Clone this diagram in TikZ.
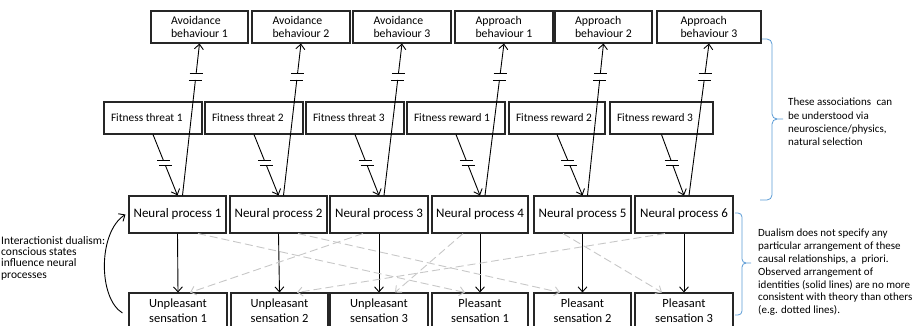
\documentclass[tikz,border=0pt]{standalone}
\usepackage{fontspec}
\setmainfont{Carlito}
\usetikzlibrary{arrows.meta}
\begin{document}
\begin{tikzpicture}[x=1pt,y=-1pt,
  box/.style={draw=black!85, line width=1.1pt, inner sep=0pt},
  beh/.style={box, align=left, minimum height=32pt, font=\fontsize{11.8}{13.5}\selectfont},
  fit/.style={box, minimum height=32pt, font=\fontsize{11.4}{13}\selectfont},
  np/.style={box, align=center, minimum height=37pt, font=\fontsize{13}{15}\selectfont},
  sens/.style={box, align=center, minimum height=35pt, font=\fontsize{12.5}{15}\selectfont},
  ar/.style={-{Straight Barb[length=5pt,width=9pt]}, line width=0.9pt},
  dsh/.style={draw=black!22, dash pattern=on 8pt off 4pt, line width=0.9pt, -{Straight Barb[length=5pt,width=9pt]}},
  tk/.style={line width=0.9pt},
  brace/.style={draw={rgb,255:red,91;green,155;blue,213}, line width=0.8pt},
  note/.style={font=\fontsize{11}{12.8}\selectfont, align=left, anchor=north west, inner sep=0pt}]
\useasboundingbox (0,0) rectangle (913,325);
\clip (0,0) rectangle (913,325);
% behaviours
\node[beh, minimum width=97pt] (b1) at (199.5,27) {Avoidance\\behaviour 1};
\node[beh, minimum width=98pt] (b2) at (301,27) {Avoidance\\behaviour 2};
\node[beh, minimum width=98pt] (b3) at (402,27) {Avoidance\\behaviour 3};
\node[beh, minimum width=98pt] (b4) at (504,27) {Approach\\behaviour 1};
\node[beh, minimum width=97pt] (b5) at (603.5,27) {Approach\\behaviour 2};
\node[beh, minimum width=104pt] (b6) at (709,27) {Approach\\behaviour 3};
% fitness
\node[fit, minimum width=98pt] (f1) at (153,118) {\makebox[84pt][l]{Fitness threat 1}};
\node[fit, minimum width=98pt] (f2) at (254,118) {\makebox[84pt][l]{Fitness threat 2}};
\node[fit, minimum width=98pt] (f3) at (355,118) {\makebox[84pt][l]{Fitness threat 3}};
\node[fit, minimum width=98pt] (f4) at (456,118) {\makebox[84pt][l]{Fitness reward 1}};
\node[fit, minimum width=96pt] (f5) at (557,118) {\makebox[82pt][l]{Fitness reward 2}};
\node[fit, minimum width=103pt] (f6) at (661.5,118) {\makebox[89pt][l]{Fitness reward 3}};
% neural processes
\node[np, minimum width=97pt] (n1) at (177.5,214.5) {Neural process 1};
\node[np, minimum width=97pt] (n2) at (278.5,214.5) {Neural process 2};
\node[np, minimum width=98pt] (n3) at (379,214.5) {Neural process 3};
\node[np, minimum width=96pt] (n4) at (480,214.5) {Neural process 4};
\node[np, minimum width=97pt] (n5) at (582.5,214.5) {Neural process 5};
\node[np, minimum width=98pt] (n6) at (684,214.5) {Neural process 6};
% sensations
\node[sens, minimum width=98pt] (u1) at (178,310.5) {Unpleasant\\sensation 1};
\node[sens, minimum width=97pt] (u2) at (279.5,310.5) {Unpleasant\\sensation 2};
\node[sens, minimum width=98pt] (u3) at (379,310.5) {Unpleasant\\sensation 3};
\node[sens, minimum width=96pt] (p1) at (480,310.5) {Pleasant\\sensation 1};
\node[sens, minimum width=97pt] (p2) at (582.5,310.5) {Pleasant\\sensation 2};
\node[sens, minimum width=98pt] (p3) at (684,310.5) {Pleasant\\sensation 3};
% fitness -> neural (with break marks)
\foreach \i in {1,...,6}{
  \path (f\i.south) -- (n\i.north) coordinate[pos=0.43] (fa\i) coordinate[pos=0.51] (fb\i);
  \draw[tk] (f\i.south) -- (fa\i);
  \draw[ar] (fb\i) -- (n\i.north);
  \draw[tk] ([xshift=-6.5pt]fa\i) -- ([xshift=6.5pt]fa\i);
  \draw[tk] ([xshift=-6.5pt]fb\i) -- ([xshift=6.5pt]fb\i);
}
% neural -> behaviour (with break marks)
\foreach \i in {1,...,6}{
  \path ([xshift=5pt]n\i.north) -- (b\i.south) coordinate[pos=0.76] (ba\i) coordinate[pos=0.8] (bb\i);
  \draw[tk] ([xshift=5pt]n\i.north) -- (ba\i);
  \draw[ar] (bb\i) -- (b\i.south);
  \draw[tk] ([xshift=-6.5pt]ba\i) -- ([xshift=6.5pt]ba\i);
  \draw[tk] ([xshift=-6.5pt]bb\i) -- ([xshift=6.5pt]bb\i);
}
% identities
\draw[ar] (n1.south) -- (u1.north);
\draw[ar] (n2.south) -- (u2.north);
\draw[ar] (n3.south) -- (u3.north);
\draw[ar] (n4.south) -- (p1.north);
\draw[ar] (n5.south) -- (p2.north);
\draw[ar] (n6.south) -- (p3.north);
% alternative (dashed)
\draw[dsh] ([xshift=20.5pt]n1.south) -- ([xshift=-15pt]p1.north);
\draw[dsh] ([xshift=19.5pt]n2.south) -- ([xshift=-22.5pt]p2.north);
\draw[dsh] ([xshift=-16pt]n3.south) -- ([xshift=12pt]u1.north);
\draw[dsh] ([xshift=-17pt]n4.south) -- ([xshift=16pt]u3.north);
\draw[dsh] ([xshift=-19.5pt]n5.south) -- ([xshift=-22pt]p3.north);
\draw[dsh] ([xshift=-19pt]n6.south) -- ([xshift=17.5pt]u2.north);
% interactionist curve
\draw[ar] ([xshift=-6pt,yshift=-2.5pt]u1.west) .. controls (98,298) and (98,232) .. ([xshift=-3pt]n1.west);
% braces
\draw[brace] (762,39) -- (767,39) to[out=0,in=90] (772,44) -- (772,114) to[out=-90,in=180] (777,119) -- (783,119);
\draw[brace] (777,119) to[out=180,in=90] (772,124) -- (772,195) to[out=-90,in=0] (767,200) -- (760,200);
\draw[brace] (735,213) -- (738,213) to[out=0,in=90] (742,217) -- (742,259) to[out=-90,in=180] (746,263) -- (751,263);
\draw[brace] (746,263) to[out=180,in=90] (742,267) -- (742,311) to[out=-90,in=0] (738,315) -- (735,315);
% notes
\node[note, font=\fontsize{11}{13.3}\selectfont] (t1) at (788,98) {These associations\hspace{0.5em}can\\be understood via\\neuroscience/physics,\\natural selection};
\node[note] (t2) at (758,229) {Dualism does not specify any\\particular arrangement of these\\causal relationships, a\hspace{0.5em}priori.\\Observed arrangement of\\identities (solid lines) are no more\\consistent with theory than others\\(e.g. dotted lines).};
\node[note, font=\fontsize{11.5}{11.4}\selectfont] (t3) at (1,236) {Interactionist dualism:\\conscious states\\influence neural\\processes};
\end{tikzpicture}
\end{document}
